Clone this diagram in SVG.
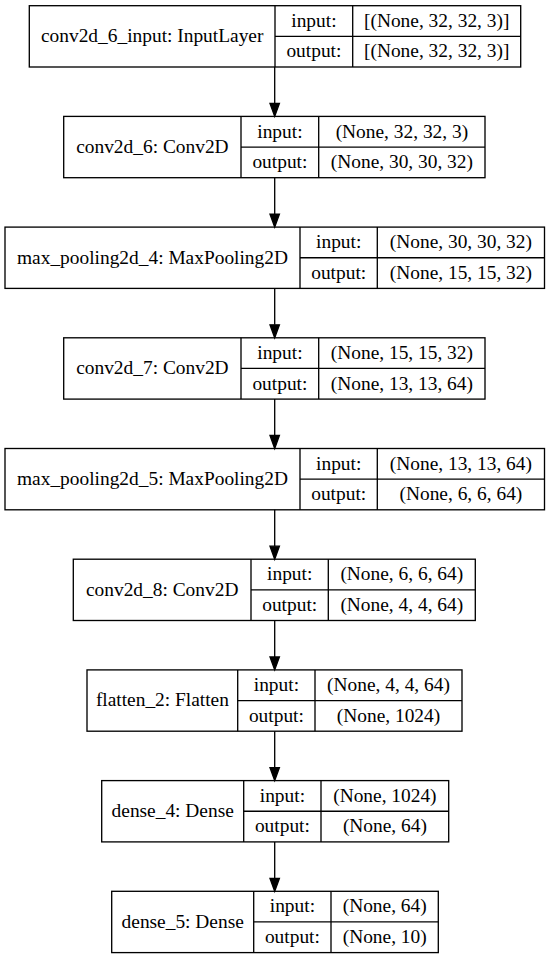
<svg xmlns="http://www.w3.org/2000/svg" width="549" height="959" viewBox="0 0 549 959" font-family="'Liberation Serif', 'Times New Roman', serif">
<style>
rect{fill:none;stroke:#000;stroke-width:1.33}
line{stroke:#000;stroke-width:1.33}
text{font-family:"Liberation Serif","Times New Roman",serif;font-size:19.4px;fill:#000;text-anchor:middle}
.e line{stroke:#000;stroke-width:1.33}
.e polygon{fill:#000;stroke:#000;stroke-width:1.33}
</style>
<rect x="0" y="0" width="549" height="959" style="fill:#fff;stroke:none"/>
<g id="conv2d_6_input">
<rect x="29.3" y="5.7" width="491.4" height="61.3"/>
<line x1="275" y1="5.7" x2="275" y2="67"/><line x1="352.7" y1="5.7" x2="352.7" y2="67"/><line x1="275" y1="36.35" x2="520.7" y2="36.35"/>
<text x="152.2" y="42.2">conv2d_6_input: InputLayer</text>
<text x="313.9" y="26.8">input:</text><text x="313.9" y="57.4">output:</text>
<text x="436.7" y="26.8">[(None, 32, 32, 3)]</text><text x="436.7" y="57.4">[(None, 32, 32, 3)]</text>
</g>
<g id="conv2d_6">
<rect x="63.7" y="116.4" width="421.3" height="61.3"/>
<line x1="241" y1="116.4" x2="241" y2="177.7"/><line x1="318.7" y1="116.4" x2="318.7" y2="177.7"/><line x1="241" y1="147.05" x2="485" y2="147.05"/>
<text x="152.4" y="152.9">conv2d_6: Conv2D</text>
<text x="279.9" y="137.5">input:</text><text x="279.9" y="168.1">output:</text>
<text x="401.9" y="137.5">(None, 32, 32, 3)</text><text x="401.9" y="168.1">(None, 30, 30, 32)</text>
</g>
<g id="max_pooling2d_4">
<rect x="5" y="227.1" width="539.5" height="61.3"/>
<line x1="300" y1="227.1" x2="300" y2="288.4"/><line x1="377.3" y1="227.1" x2="377.3" y2="288.4"/><line x1="300" y1="257.75" x2="544.5" y2="257.75"/>
<text x="152.5" y="263.6">max_pooling2d_4: MaxPooling2D</text>
<text x="338.7" y="248.2">input:</text><text x="338.7" y="278.8">output:</text>
<text x="460.9" y="248.2">(None, 30, 30, 32)</text><text x="460.9" y="278.8">(None, 15, 15, 32)</text>
</g>
<g id="conv2d_7">
<rect x="63.7" y="337.8" width="421.3" height="61.3"/>
<line x1="241" y1="337.8" x2="241" y2="399.1"/><line x1="318.7" y1="337.8" x2="318.7" y2="399.1"/><line x1="241" y1="368.45" x2="485" y2="368.45"/>
<text x="152.4" y="374.3">conv2d_7: Conv2D</text>
<text x="279.9" y="358.9">input:</text><text x="279.9" y="389.5">output:</text>
<text x="401.9" y="358.9">(None, 15, 15, 32)</text><text x="401.9" y="389.5">(None, 13, 13, 64)</text>
</g>
<g id="max_pooling2d_5">
<rect x="5" y="448.5" width="539.5" height="61.3"/>
<line x1="300" y1="448.5" x2="300" y2="509.8"/><line x1="377.3" y1="448.5" x2="377.3" y2="509.8"/><line x1="300" y1="479.15" x2="544.5" y2="479.15"/>
<text x="152.5" y="485">max_pooling2d_5: MaxPooling2D</text>
<text x="338.7" y="469.6">input:</text><text x="338.7" y="500.2">output:</text>
<text x="460.9" y="469.6">(None, 13, 13, 64)</text><text x="460.9" y="500.2">(None, 6, 6, 64)</text>
</g>
<g id="conv2d_8">
<rect x="73.3" y="559.2" width="402" height="61.3"/>
<line x1="251" y1="559.2" x2="251" y2="620.5"/><line x1="328.3" y1="559.2" x2="328.3" y2="620.5"/><line x1="251" y1="589.85" x2="475.3" y2="589.85"/>
<text x="162.2" y="595.7">conv2d_8: Conv2D</text>
<text x="289.7" y="580.3">input:</text><text x="289.7" y="610.9">output:</text>
<text x="401.8" y="580.3">(None, 6, 6, 64)</text><text x="401.8" y="610.9">(None, 4, 4, 64)</text>
</g>
<g id="flatten_2">
<rect x="87" y="669.9" width="375" height="61.3"/>
<line x1="237.7" y1="669.9" x2="237.7" y2="731.2"/><line x1="315" y1="669.9" x2="315" y2="731.2"/><line x1="237.7" y1="700.55" x2="462" y2="700.55"/>
<text x="162.4" y="706.4">flatten_2: Flatten</text>
<text x="276.4" y="691">input:</text><text x="276.4" y="721.6">output:</text>
<text x="388.5" y="691">(None, 4, 4, 64)</text><text x="388.5" y="721.6">(None, 1024)</text>
</g>
<g id="dense_4">
<rect x="101.7" y="780.6" width="347" height="61.3"/>
<line x1="243.7" y1="780.6" x2="243.7" y2="841.9"/><line x1="321" y1="780.6" x2="321" y2="841.9"/><line x1="243.7" y1="811.25" x2="448.7" y2="811.25"/>
<text x="172.7" y="817.1">dense_4: Dense</text>
<text x="282.4" y="801.7">input:</text><text x="282.4" y="832.3">output:</text>
<text x="384.9" y="801.7">(None, 1024)</text><text x="384.9" y="832.3">(None, 64)</text>
</g>
<g id="dense_5">
<rect x="111.7" y="891.3" width="326.6" height="61.3"/>
<line x1="253.7" y1="891.3" x2="253.7" y2="952.6"/><line x1="331" y1="891.3" x2="331" y2="952.6"/><line x1="253.7" y1="921.95" x2="438.3" y2="921.95"/>
<text x="182.7" y="927.8">dense_5: Dense</text>
<text x="292.4" y="912.4">input:</text><text x="292.4" y="943">output:</text>
<text x="384.7" y="912.4">(None, 64)</text><text x="384.7" y="943">(None, 10)</text>
</g>
<g id="edges" class="e">
<line x1="274.7" y1="67" x2="274.7" y2="103.4"/><polygon points="270,103.4 279.4,103.4 274.7,116.4"/>
<line x1="274.7" y1="177.7" x2="274.7" y2="214.1"/><polygon points="270,214.1 279.4,214.1 274.7,227.1"/>
<line x1="274.7" y1="288.4" x2="274.7" y2="324.8"/><polygon points="270,324.8 279.4,324.8 274.7,337.8"/>
<line x1="274.7" y1="399.1" x2="274.7" y2="435.5"/><polygon points="270,435.5 279.4,435.5 274.7,448.5"/>
<line x1="274.7" y1="509.8" x2="274.7" y2="546.2"/><polygon points="270,546.2 279.4,546.2 274.7,559.2"/>
<line x1="274.7" y1="620.5" x2="274.7" y2="656.9"/><polygon points="270,656.9 279.4,656.9 274.7,669.9"/>
<line x1="274.7" y1="731.2" x2="274.7" y2="767.6"/><polygon points="270,767.6 279.4,767.6 274.7,780.6"/>
<line x1="274.7" y1="841.9" x2="274.7" y2="878.3"/><polygon points="270,878.3 279.4,878.3 274.7,891.3"/>
</g>
</svg>
